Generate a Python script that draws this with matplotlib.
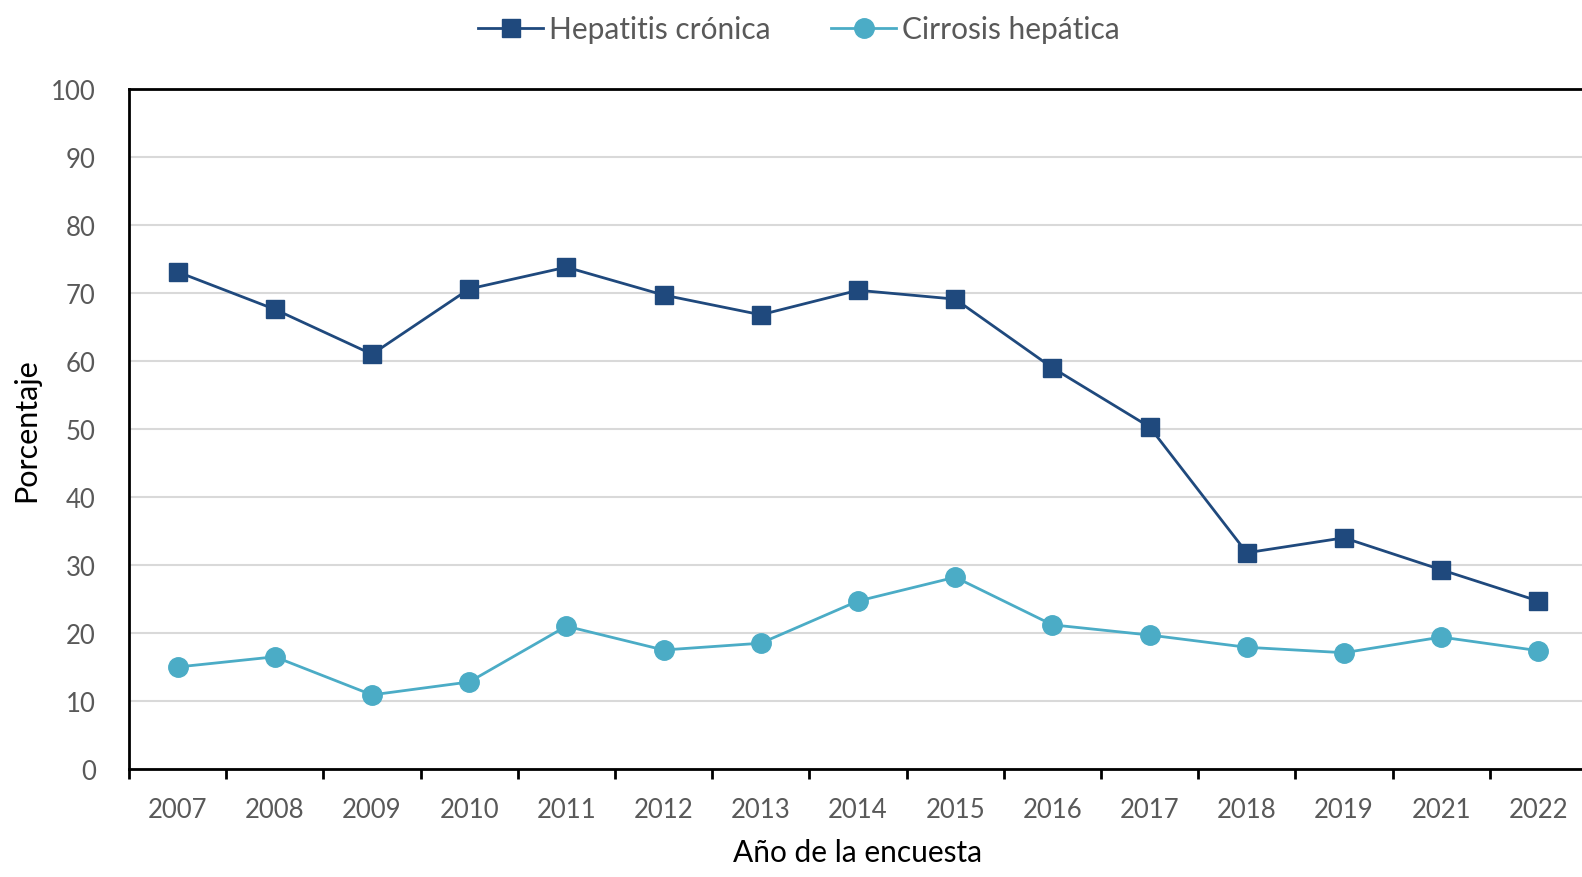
import numpy as np
import matplotlib.pyplot as plt

anios = ["2007", "2008", "2009", "2010", "2011", "2012", "2013", "2014",
         "2015", "2016", "2017", "2018", "2019", "2021", "2022"]
hepatitis = [73.1, 67.6, 61.0, 70.6, 73.8, 69.7, 66.8, 70.4,
             69.1, 59.0, 50.3, 31.8, 34.0, 29.3, 24.7]
cirrosis = [15.0, 16.5, 10.9, 12.8, 21.0, 17.5, 18.5, 24.7,
            28.2, 21.2, 19.7, 17.9, 17.1, 19.4, 17.4]

plt.rcParams['font.family'] = ['Lato', 'DejaVu Sans']

fig = plt.figure(figsize=(15.82, 8.78), dpi=100)
ax = fig.add_axes([129 / 1582, 1 - 770 / 878, 1458 / 1582, 680 / 878])

x = np.arange(len(anios))
ax.plot(x, hepatitis, color='#1F497D', lw=2, marker='s', ms=13.5,
        label='Hepatitis crónica')
ax.plot(x, cirrosis, color='#4BACC6', lw=2, marker='o', ms=14,
        label='Cirrosis hepática')

ax.set_xlim(-0.5, len(anios) - 0.5)
ax.set_ylim(0, 100)
ax.set_yticks(np.arange(0, 101, 10))
ax.set_xticks(x)
ax.set_xticklabels(anios)
ax.set_xticks(np.arange(-0.5, len(anios), 1), minor=True)
ax.tick_params(axis='x', which='major', length=0, pad=20, labelsize=18.5, labelcolor='#595959')
ax.tick_params(axis='x', which='minor', length=7, width=2, direction='out')
ax.tick_params(axis='y', length=0, pad=24, labelsize=18.5, labelcolor='#595959')

ax.grid(axis='y', color='#D9D9D9', lw=1.5)
ax.set_axisbelow(True)
for s in ax.spines.values():
    s.set_linewidth(2)
    s.set_color('black')

ax.set_xlabel('Año de la encuesta', fontsize=21.5, labelpad=12)
ax.set_ylabel('Porcentaje', fontsize=22, labelpad=8)

fig.legend(loc='upper center', bbox_to_anchor=(0.505, 1.012), ncol=2, frameon=False,
           fontsize=21.5, handlelength=2.2, columnspacing=2.0, handletextpad=0.2,
           labelcolor='#595959')

fig.savefig('out.png', dpi=100)
